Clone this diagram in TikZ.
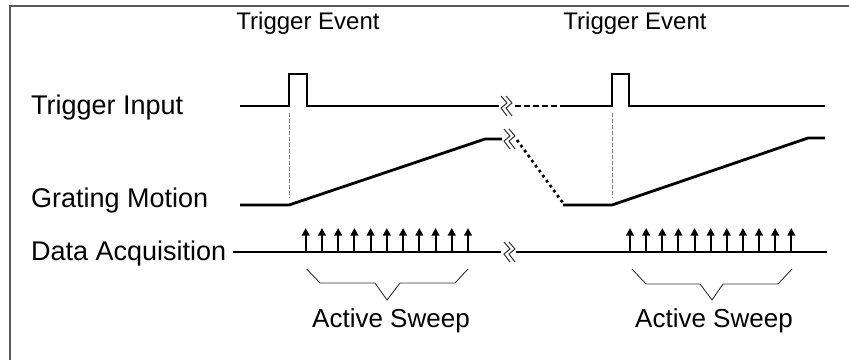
\documentclass[tikz,border=0pt]{standalone}
\usepackage{fontspec}
\setmainfont{Liberation Sans}
\usetikzlibrary{arrows.meta}

\tikzset{
    gapmark/.pic={
        \draw[brk] (0,-10) -- (6,-3) -- (0,2) -- (6,10);
        \draw[brk] (5,-10) -- (11,-3) -- (5,2) -- (11,10);
    }
}

\begin{document}
\begin{tikzpicture}[
    x=1pt, y=-1pt,
    sig/.style={line width=2.8pt, line join=miter},
    guide/.style={gray, line width=0.9pt, dash pattern=on 4pt off 2pt},
    brace/.style={line width=0.9pt, black!80},
    brk/.style={line width=1pt, black!80},
    lbl/.style={anchor=base west, inner sep=0pt, font=\fontsize{27}{27}\selectfont},
    evt/.style={anchor=base, inner sep=0pt, font=\fontsize{24}{24}\selectfont},
    sweep/.style={anchor=base, inner sep=0pt, font=\fontsize{26}{26}\selectfont},
    sample/.style={-{Triangle[length=7.5pt, width=7.5pt]}, line width=2pt}
]
\useasboundingbox (0,0) rectangle (849,360);

% frame
\draw[line width=1.6pt, black!65] (10,360) -- (10,6) -- (849,6);

% row labels
\node[lbl] (trig) at (31,114) {Trigger Input};
\node[lbl] (grat) at (31,207) {Grating Motion};
\node[lbl] (daq)  at (31,260) {Data Acquisition};

\node[evt] (ev1) at (308,29) {Trigger Event};
\node[evt] (ev2) at (635,29) {Trigger Event};

% trigger input
\draw[sig] (240,106) -- (289,106) -- (289,74) -- (307,74) -- (307,106) -- (499,106);
\draw[line width=2.2pt, dash pattern=on 6pt off 3pt] (515,106) -- (563,106);
\draw[sig] (563,106) -- (612,106) -- (612,74) -- (629,74) -- (629,106) -- (825,106);

% grating motion
\draw[sig] (240,205) -- (289,205) -- (485,139) -- (502,139);
\draw[line width=2.7pt, dash pattern=on 2.7pt off 3.5pt] (517,140) -- (563,203);
\draw[sig] (563,205) -- (612,205) -- (808,138) -- (825,138);

% trigger to motion start
\draw[guide] (289,113) -- (289,198);
\draw[guide] (612,113) -- (612,198);

% data acquisition
\draw[sig] (233,252) -- (501,252);
\draw[sig] (516,252) -- (827,252);
\foreach \i in {0,...,10} {
    \draw[sample] (305.7+16.23*\i,253) -- (305.7+16.23*\i,228);
    \draw[sample] (630+16.13*\i,253) -- (630+16.13*\i,228);
}

% breaks in the time axis
\pic at (501,106) {gapmark};
\pic at (504,139) {gapmark};
\pic at (504,252) {gapmark};

% active sweep brackets
\draw[brace] (306.7,269) -- (320,283) -- (375,283) -- (387,300) -- (400,283) -- (455,283) -- (468,269);
\draw[brace] (632,269) -- (646,284) -- (700,284) -- (712,300) -- (723,284) -- (778,284) -- (792,269);
\node[sweep] (sw1) at (391,327) {Active Sweep};
\node[sweep] (sw2) at (714,327) {Active Sweep};
\end{tikzpicture}
\end{document}
